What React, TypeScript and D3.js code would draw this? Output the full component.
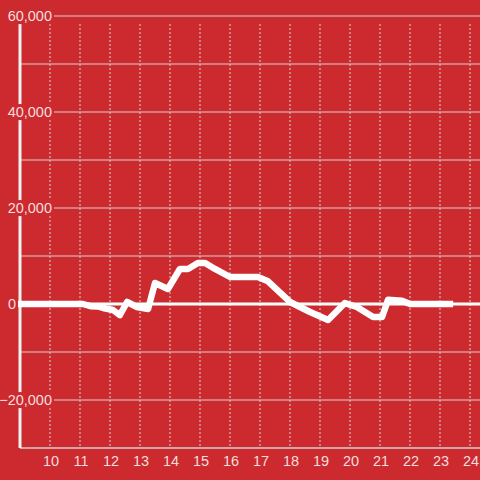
import React, { useEffect, useRef } from "react";
import * as d3 from "d3";

const hours: number[] = [9.0, 11.1, 11.35, 11.6, 11.77, 12.1, 12.33, 12.57, 12.9, 13.27, 13.5, 13.93, 14.33, 14.6, 14.93, 15.17, 15.5, 16.0, 16.93, 17.25, 18.0, 18.67, 19.27, 19.45, 19.83, 20.23, 20.77, 21.07, 21.27, 21.73, 22.0, 23.33];
const values: number[] = [0, 0, -450, -500, -830, -1250, -2300, 420, -620, -1040, 4375, 3125, 7300, 7300, 8540, 8540, 7300, 5625, 5625, 4800, 420, -1670, -3330, -2200, 200, -620, -2700, -2700, 900, 700, 0, 0];
const yTicks: number[] = [60000, 40000, 20000, 0, -20000];
const yGrid: number[] = [60000, 50000, 40000, 30000, 20000, 10000, -10000, -20000];
const xTicks: number[] = [10, 11, 12, 13, 14, 15, 16, 17, 18, 19, 20, 21, 22, 23, 24];

const W = 480;
const H = 480;
const BG = "#cc2a2e";
const TEXT = "#f6dede";
const GRID = "#d2d2d2";

export default function App() {
  const ref = useRef<SVGSVGElement | null>(null);

  useEffect(() => {
    const svg = d3.select(ref.current);
    svg.selectAll("*").remove();

    const x = d3.scaleLinear().domain([9, 24 + 1 / 3]).range([20, 480]);
    const y = d3.scaleLinear().domain([-30000, 60000]).range([448, 16]);

    svg.append("rect").attr("width", W).attr("height", H).attr("fill", BG);

    // horizontal grid
    svg.append("g").selectAll("line").data(yGrid).join("line")
      .attr("x1", x(9)).attr("x2", W)
      .attr("y1", (d) => y(d)).attr("y2", (d) => y(d))
      .attr("stroke", GRID).attr("stroke-width", 1);

    // vertical dashed grid
    svg.append("g").selectAll("line").data(xTicks).join("line")
      .attr("x1", (d) => x(d)).attr("x2", (d) => x(d))
      .attr("y1", 24).attr("y2", y(-30000))
      .attr("stroke", GRID).attr("stroke-width", 1)
      .attr("stroke-dasharray", "2,2");

    // bottom axis line
    svg.append("line")
      .attr("x1", x(9)).attr("x2", W)
      .attr("y1", y(-30000)).attr("y2", y(-30000))
      .attr("stroke", GRID).attr("stroke-width", 1.5);

    // zero line
    svg.append("line")
      .attr("x1", 17).attr("x2", W)
      .attr("y1", y(0)).attr("y2", y(0))
      .attr("stroke", "#ffffff").attr("stroke-width", 3);

    // vertical axis
    svg.append("line")
      .attr("x1", x(9)).attr("x2", x(9))
      .attr("y1", 24).attr("y2", y(-30000))
      .attr("stroke", "#f2f2f2").attr("stroke-width", 3);

    // data line
    const line = d3.line<number>()
      .x((_, i) => x(hours[i]))
      .y((d) => y(d))
      .curve(d3.curveLinear);
    svg.append("path")
      .attr("d", line(values))
      .attr("fill", "none")
      .attr("stroke", "#ffffff")
      .attr("stroke-width", 6.5)
      .attr("stroke-linecap", "square")
      .attr("stroke-linejoin", "round");

    // y labels with background
    const fmt = d3.format(",");
    const yg = svg.append("g");
    yTicks.forEach((v) => {
      const g = yg.append("g");
      const rect = g.append("rect").attr("fill", BG);
      const t = g.append("text")
        .attr("x", v === 0 ? 16 : 52)
        .attr("y", y(v))
        .attr("dy", "0.35em")
        .attr("text-anchor", "end")
        .attr("font-family", "Liberation Sans, Arial, sans-serif")
        .attr("font-size", 14.5)
        .attr("fill", TEXT)
        .text(fmt(v));
      const bb = (t.node() as SVGTextElement).getBBox();
      rect.attr("x", bb.x - 2).attr("y", bb.y).attr("width", bb.width + 4).attr("height", bb.height);
    });

    // x labels
    svg.append("g").selectAll("text").data(xTicks).join("text")
      .attr("x", (d) => x(d) + 1)
      .attr("y", 461)
      .attr("dy", "0.35em")
      .attr("text-anchor", "middle")
      .attr("font-family", "Liberation Sans, Arial, sans-serif")
      .attr("font-size", 14.5)
      .attr("fill", TEXT)
      .text((d) => String(d));
  }, []);

  return (
    <svg
      ref={ref}
      width={W}
      height={H}
      style={{ position: "absolute", left: 0, top: 0, display: "block" }}
    />
  );
}
